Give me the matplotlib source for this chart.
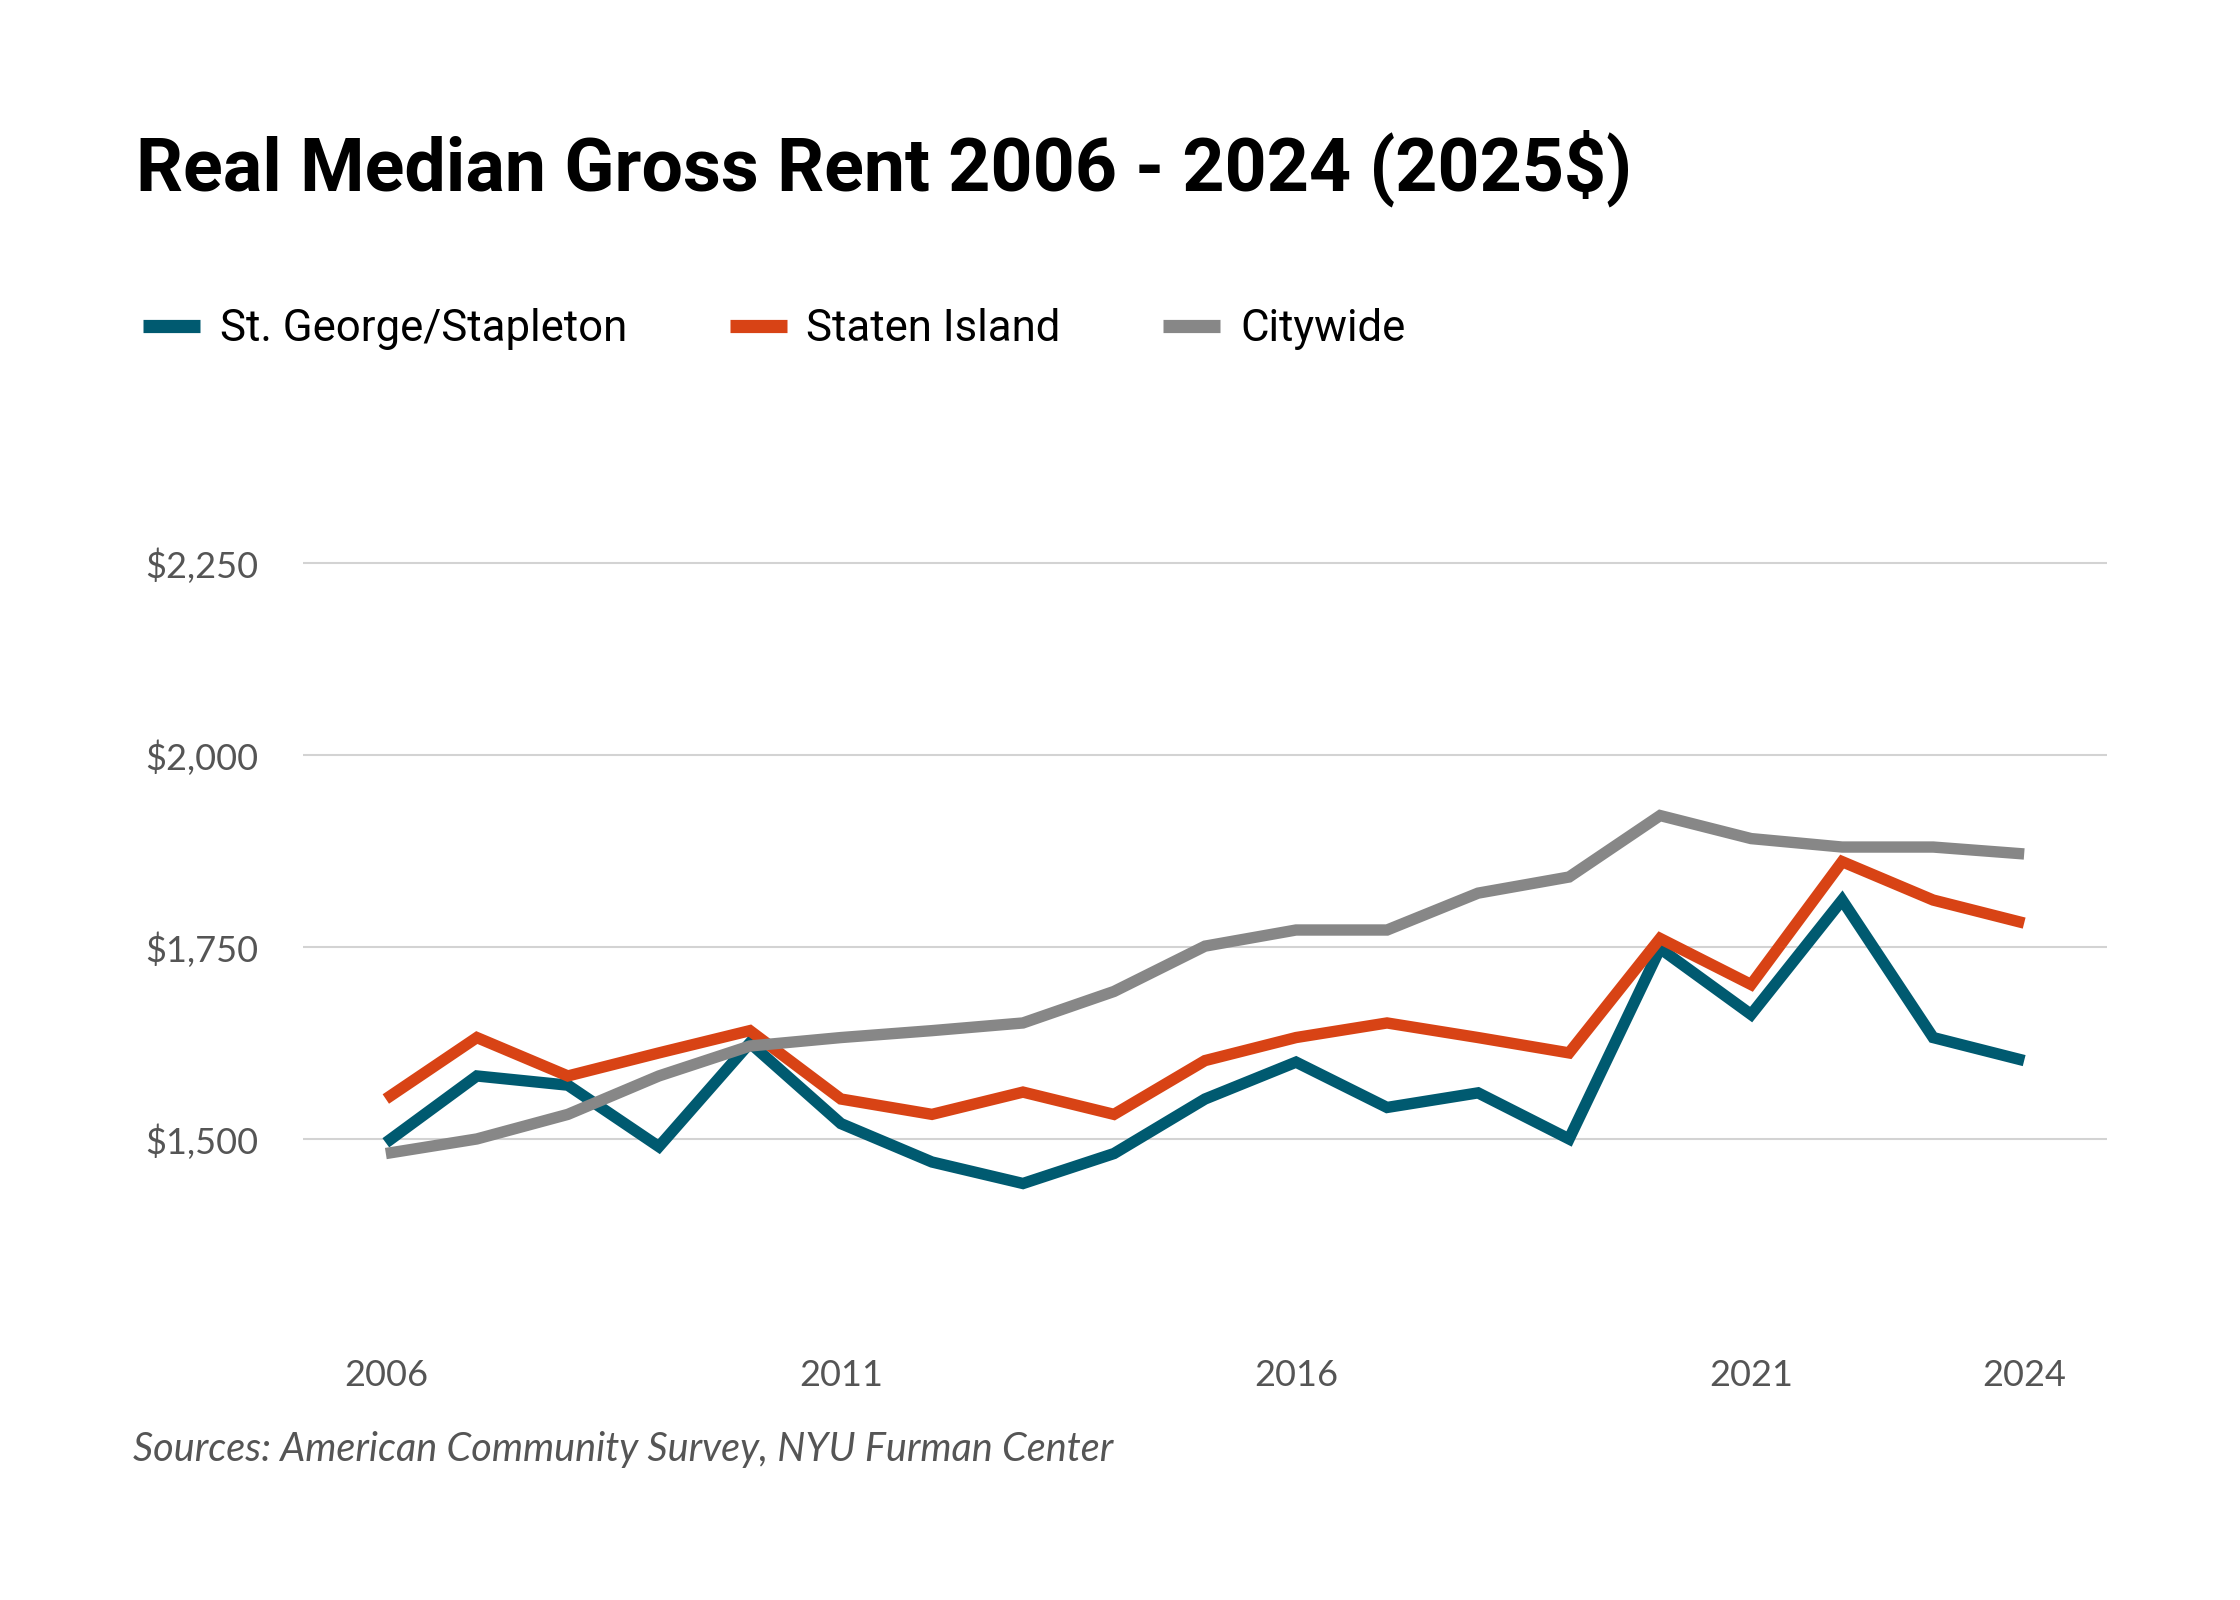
import matplotlib
matplotlib.use("Agg")
import matplotlib.pyplot as plt

# values (2025 dollars)
years = list(range(2006, 2025))
st_george = [1495, 1582, 1570, 1490, 1625, 1520, 1470, 1442, 1481, 1552,
             1600, 1541, 1560, 1500, 1748, 1662, 1811, 1632, 1602]
staten_island = [1552, 1632, 1582, 1612, 1641, 1552, 1532, 1561, 1532, 1602,
                 1632, 1651, 1632, 1612, 1761, 1701, 1861, 1811, 1781]
citywide = [1481, 1500, 1532, 1582, 1621, 1632, 1641, 1651, 1692, 1751,
            1772, 1772, 1820, 1841, 1921, 1891, 1880, 1880, 1871]

series_names = ["St. George/Stapleton", "Staten Island", "Citywide"]
series_colors = ["#005a70", "#d84315", "#878787"]

y_ticks = [1500, 1750, 2000, 2250]
y_tick_labels = ["$1,500", "$1,750", "$2,000", "$2,250"]
x_ticks = [2006, 2011, 2016, 2021, 2024]

TITLE = "Real Median Gross Rent 2006 - 2024 (2025$)"
SOURCE = "Sources: American Community Survey, NYU Furman Center"

W, H = 2240, 1600
fig = plt.figure(figsize=(W / 100, H / 100), dpi=100)
fig.patch.set_facecolor("white")

ax = fig.add_axes([303 / W, 1 - 1331 / H, (2107 - 303) / W, (1331 - 486) / H])

for values, name, color in zip([st_george, staten_island, citywide], series_names, series_colors):
    ax.plot(years, values, color=color, linewidth=8.2, label=name,
            solid_joinstyle="miter", solid_capstyle="butt", zorder=3)

ax.set_xlim(2005.09, 2024.91)
ax.set_ylim(1250, 2350)
ax.set_yticks(y_ticks)
ax.set_yticklabels(y_tick_labels)
ax.set_xticks(x_ticks)
ax.set_xticklabels([str(x) for x in x_ticks])
ax.grid(axis="y", color="#d3d3d3", linewidth=1.5, zorder=0)
ax.set_axisbelow(True)
for spine in ax.spines.values():
    spine.set_visible(False)
ax.tick_params(axis="both", length=0, colors="#555555", labelsize=26)
ax.tick_params(axis="y", pad=32)
ax.tick_params(axis="x", pad=20)
for lab in ax.get_xticklabels() + ax.get_yticklabels():
    lab.set_fontfamily("Lato")

fig.text(136 / W, 1 - 190 / H, TITLE, fontsize=53, fontweight="bold",
         family="Roboto", color="black", ha="left", va="baseline")

handles, labels = ax.get_legend_handles_labels()
leg = fig.legend(handles, labels, loc="center left",
                 bbox_to_anchor=(143 / W, 1 - 329 / H), ncol=3, frameon=False,
                 borderaxespad=0, borderpad=0,
                 handlelength=1.3, handletextpad=0.45, columnspacing=2.35,
                 prop={"family": "Roboto", "size": 31.5})
for line in leg.get_lines():
    line.set_linewidth(9.5)

fig.text(133 / W, 1 - 1450 / H, SOURCE, fontsize=28.5, style="italic",
         family="Lato", color="#555555", ha="left", va="center")

fig.savefig("out.png", dpi=100, facecolor="white")
